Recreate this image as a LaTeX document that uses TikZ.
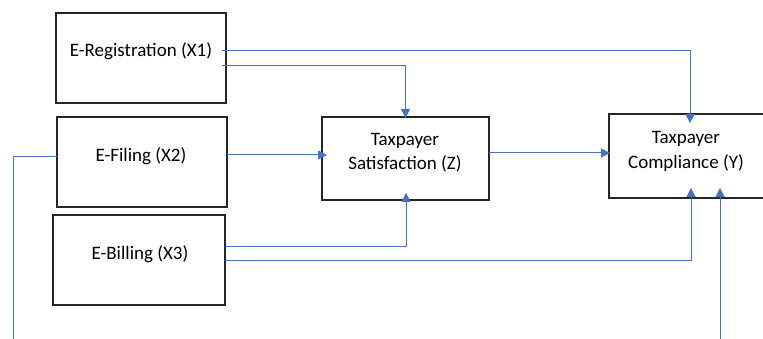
\documentclass[tikz,border=0pt]{standalone}
\usepackage{fontspec}
\setmainfont{Carlito}
\usetikzlibrary{arrows.meta,calc}
\begin{document}
\begin{tikzpicture}[x=1pt,y=-1pt,
  box/.style={draw=black!85,line width=1.8pt,inner sep=0pt,outer sep=0pt},
  lbl/.style={font=\fontsize{19}{24.5}\selectfont,align=center,inner sep=0pt},
  conn/.style={draw={rgb,255:red,68;green,114;blue,196},line width=1pt},
  arr/.style={conn,-{Triangle[length=9pt,width=9pt]}}]
\useasboundingbox (0,0) rectangle (763,339);

% the five boxes
\node[box,minimum width=170pt,minimum height=90pt] (x1) at (141,58) {};
\node[box,minimum width=170pt,minimum height=90pt] (x2) at (142,162) {};
\node[box,minimum width=172pt,minimum height=90pt] (x3) at (139,260) {};
\node[box,minimum width=167pt,minimum height=83pt] (z) at (405.5,158.5) {};
\node[box,minimum width=166pt,minimum height=84pt] (y) at (692,156) {};

% box captions
\node[lbl] (x1t) at (141,51) {E-Registration (X1)};
\node[lbl] (x2t) at (141,156) {E-Filing (X2)};
\node[lbl] (x3t) at (140,254) {E-Billing (X3)};
\node[lbl] (zt) at (405,152.5) {Taxpayer\\Satisfaction (Z)};
\node[lbl] (yt) at (686,151.5) {Taxpayer\\Compliance (Y)};

% free ends of the two open lines
\coordinate (lend) at (13,339);
\coordinate (rend) at (720,339);

% connectors
\draw[arr] ($(x1.east)+(-4,-7)$) -| ($(y.north)+(-2,9)$);
\draw[arr] ($(x1.east)+(-4,8)$) -| ($(z.north)+(0,1)$);
\draw[arr] ($(x2.east)+(0,-7)$) -- ($(z.west)+(5,-3.5)$);
\draw[arr] ($(z.east)+(0,-5.5)$) -- ($(y.west)+(1,-3)$);
\draw[arr] ($(x3.east)+(0,-13)$) -| ($(z.south)+(0.5,-7)$);
\draw[arr] ($(x3.east)+(0,0)$) -| ($(y.south)+(-1,-10)$);
\draw[conn] ($(x2.west)+(0,-5)$) -| (lend);
\draw[arr] (rend) -- ($(y.south)+(28,-10)$);
\end{tikzpicture}
\end{document}
